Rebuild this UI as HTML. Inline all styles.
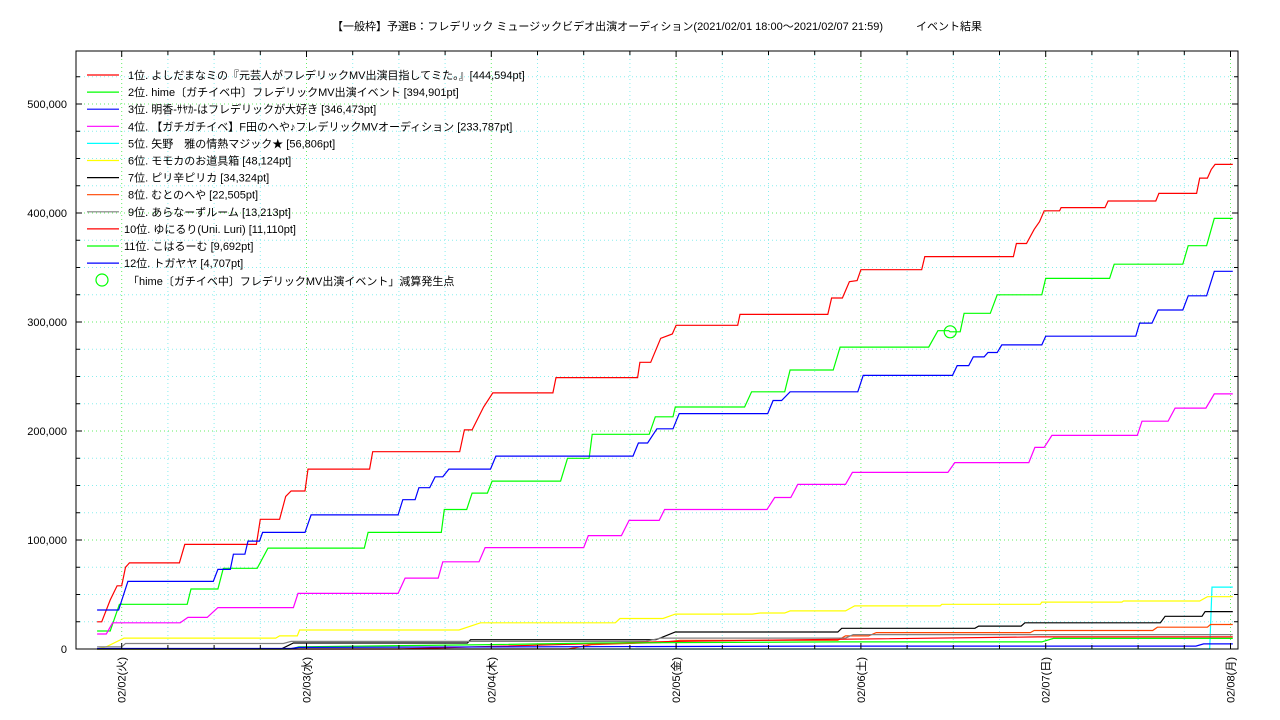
<!DOCTYPE html>
<html><head><meta charset="utf-8">
<style>
html,body{margin:0;padding:0;background:#fff;}
svg{display:block;font-family:"Liberation Sans","Noto Sans CJK JP",sans-serif;}
</style></head>
<body>
<svg id="chart" width="1280" height="720" viewBox="0 0 1280 720">
<text x="657" y="30" font-size="11" text-anchor="middle">【一般枠】予選B：フレデリック ミュージックビデオ出演オーディション(2021/02/01 18:00～2021/02/07 21:59)　　　イベント結果</text>
<g id="grid"></g>
<g id="series"></g>
<g id="axes"></g>
<g id="legend"></g>
</svg>
<script>
// ---- data (hours since 02/02 00:00, values in thousands of pt) ----
const dayLabels = ["02/02(火)","02/03(水)","02/04(木)","02/05(金)","02/06(土)","02/07(日)","02/08(月)"];
const yTicks = [0,100000,200000,300000,400000,500000];
const names = [
"1位. よしだまなミの『元芸人がフレデリックMV出演目指してミた。』[444,594pt]",
"2位. hime〔ガチイベ中〕フレデリックMV出演イベント [394,901pt]",
"3位. 明香-ｻﾔｶ-はフレデリックが大好き [346,473pt]",
"4位. 【ガチガチイベ】F田のへや♪フレデリックMVオーディション [233,787pt]",
"5位. 矢野　雅の情熱マジック★ [56,806pt]",
"6位. モモカのお道具箱 [48,124pt]",
"7位. ピリ辛ピリカ [34,324pt]",
"8位. むとのへや [22,505pt]",
"9位. あらなーずルーム [13,213pt]",
"10位. ゆにるり(Uni. Luri) [11,110pt]",
"11位. こはるーむ [9,692pt]",
"12位. トガヤヤ [4,707pt]"];
const colors = ["#ff0000","#00ff00","#0000ff","#ff00ff","#00ffff","#ffff00","#000000","#ff4500","#808080","#ff0000","#00ff00","#0000ff"];
const s1 = [[-3.2,25],[-2.6,25],[-1.5,45],[-0.6,58],[0,58],[0.5,75],[1,79],[7.5,79],[8.2,96],[17.5,96],[18,119],[20.5,119],[21.3,140],[22,145],[23.8,145],[24.2,165],[32.2,165],[32.6,181],[43.9,181],[44.5,201],[45.5,201],[47,222],[48.2,235],[56,235],[56.4,249],[67,249],[67.3,263],[68.7,263],[70,285],[71.5,289],[72,297],[80,297],[80.3,307],[91.7,307],[92.2,322],[93.6,322],[94.5,337],[95.5,338],[96,348],[103.9,348],[104.3,360],[115.8,360],[116.2,372],[117.5,372],[118.5,385],[119.2,392],[119.8,402],[121.8,402],[122,405],[127.7,405],[128.1,411],[134.3,411],[134.7,418],[139.6,418],[140,432],[141,432],[141.5,440],[142,444.6],[144.3,444.6]];
const s2 = [[-3.2,16.5],[-1.5,16.5],[-0.3,41],[8.5,41],[9.0,55],[12.5,55],[13.2,74],[17.6,74],[19.0,92.6],[31.5,92.6],[32.0,107],[41.5,107],[41.9,128],[44.8,128],[45.5,143],[47.5,143],[48.1,154],[57.0,154],[57.9,175],[60.7,175],[61.1,197],[68.5,197],[69.3,213],[71.6,213],[71.9,222],[80.9,222],[81.8,236],[86.1,236],[86.8,256],[92.4,256],[93.3,277],[104.8,277],[106.0,292],[107.4,292],[107.6,291],[108.9,291],[109.4,308],[112.8,308],[113.7,325],[119.5,325],[120.0,340],[128.3,340],[128.9,353],[137.8,353],[138.5,370],[140.9,370],[141.9,395],[144.3,395]];
const s3 = [[-3.2,35.8],[-0.4,35.8],[0.8,62],[11.9,62],[12.5,73],[14.1,73],[14.5,87],[16,87],[16.4,99],[17.9,99],[18.3,107],[23.8,107],[24.6,123],[35.9,123],[36.5,137],[38.1,137],[38.6,148],[40,148],[40.7,158],[41.7,158],[42.5,165],[47.9,165],[48.6,177],[66.4,177],[67.1,189],[68.3,189],[69.5,202],[71.6,202],[72.4,216],[83.9,216],[84.6,228],[85.7,228],[86.8,236],[95.6,236],[96.3,251],[107.9,251],[108.5,260],[110,260],[110.6,268],[112,268],[112.5,272],[113.7,272],[114.3,279],[119.5,279],[120,287],[131.7,287],[132.2,299],[133.8,299],[134.6,311],[137.8,311],[138.5,324],[140.9,324],[141.9,346.5],[144.3,346.5]];
const s4 = [[-3.2,13.8],[-2,13.8],[-1.2,24],[7.6,24],[8.6,29],[11.1,29],[12.5,38],[22.3,38],[22.9,51],[35.9,51],[36.8,65],[41.1,65],[41.7,80],[46.4,80],[47.2,93],[60,93],[60.6,104],[64.9,104],[65.9,118],[69.8,118],[70.5,128],[83.8,128],[84.8,139],[86.9,139],[87.8,151],[94,151],[94.9,162],[107.3,162],[108.2,171],[117.8,171],[118.6,185],[119.8,185],[120.8,196],[131.9,196],[132.5,209],[135.9,209],[136.8,221],[140.8,221],[141.9,234],[144.3,234]];
const s5 = [[-3.2,0],[141.3,0],[141.6,56.8],[144.3,56.8]];
const s6 = [[-3.2,0],[-2,2],[0.3,10],[20,10],[20.5,12],[22.8,12],[23.1,17.4],[43.8,17.4],[46.6,24],[64.1,24],[64.7,28],[70.3,28],[71.9,32],[81.9,32],[82.9,33],[86.1,33],[86.8,35],[94,35],[95.2,39.5],[106.3,39.5],[106.5,41],[119.3,41],[119.5,43],[129.9,43],[130.1,44],[140,44],[141,48],[144.3,48]];
const s7 = [[-3.2,0],[20.7,0],[22.3,5.5],[44.9,5.5],[45.3,8.5],[69.4,8.5],[71.9,15.6],[93,15.6],[93.5,19],[110.8,19],[111.3,21],[116.8,21],[117.3,24],[134.9,24],[135.5,30],[140.3,30],[140.7,34.3],[144.3,34.3]];
const s8 = [[-3.2,0],[58,0],[61,4],[70,6],[72.5,8],[93,8],[94,12],[97,12],[98,15],[118,15],[118.5,17],[133.9,17],[134.5,20],[141,20],[141.4,22.5],[144.3,22.5]];
const s9 = [[-3.2,2],[0,2],[0.5,5],[21,5],[22,7],[68,7],[70,10],[94,10],[95,13.2],[144.3,13.2]];
const s10 = [[-3.2,0],[36,0],[46,2],[62,5],[72,7],[94,9],[119,11.1],[144.3,11.1]];
const s11 = [[-3.2,0],[22,0],[23,2],[48,4],[62,5.5],[93,6.5],[119.5,6.5],[121,9.7],[144.3,9.7]];
const s12 = [[-3.2,0.5],[22,0.5],[23,1.5],[93,2.7],[139.5,2.7],[140.5,4.7],[144.3,4.7]];
const allSeries = [s1,s2,s3,s4,s5,s6,s7,s8,s9,s10,s11,s12];
const markerPoint = [107.6, 291];

// ---- axes ----
const NS="http://www.w3.org/2000/svg";
const L=76,R=1238,T=51,B=649;
const X0=121.7, PXH=7.7;
function xs(h){return X0+h*PXH;}
function ys(v){return B-v*0.00109*1000;} // v in thousands
function el(tag,attrs,parent){const e=document.createElementNS(NS,tag);for(const k in attrs)e.setAttribute(k,attrs[k]);parent.appendChild(e);return e;}
const grid=document.getElementById('grid'),axes=document.getElementById('axes'),ser=document.getElementById('series'),leg=document.getElementById('legend');

// vertical grid every 6h
for(let h=-18;h<=150;h+=6){const x=xs(h);if(x<L+1||x>R-1)continue;
 const major=(h%24===0);
 const g=el('line',{x1:x,x2:x,y1:T,y2:B,stroke:major?'#66ee66':'#88eeee','stroke-width':1,'stroke-dasharray':'1,3'},grid);
 
 
 el('line',{x1:x,x2:x,y1:B,y2:B-(major?6:4),stroke:'#000'},axes);
 el('line',{x1:x,x2:x,y1:T,y2:T+(major?6:4),stroke:'#000'},axes);
}
// horizontal grid every 25k
for(let v=25;v<=550;v+=25){const y=ys(v);if(y<T)continue;const major=(v%100===0);
 const g=el('line',{x1:L,x2:R,y1:y,y2:y,stroke:major?'#66ee66':'#88eeee','stroke-width':1,'stroke-dasharray':'1,3'},grid);
 
 
 el('line',{x1:L,x2:L+(major?6:4),y1:y,y2:y,stroke:'#000'},axes);
 el('line',{x1:R,x2:R-(major?6:4),y1:y,y2:y,stroke:'#000'},axes);
}
const frame=el('rect',{x:L,y:T,width:R-L,height:B-T,fill:'none',stroke:'#000','stroke-width':1},axes);


yTicks.forEach(v=>{const t=el('text',{x:67,y:ys(v/1000)+4,'font-size':11,'text-anchor':'end'},axes);t.textContent=v.toLocaleString('en-US');
 
 });
dayLabels.forEach((d,i)=>{const x=xs(i*24);const t=el('text',{transform:`translate(${x+4},657) rotate(-90)`,'font-size':11,'text-anchor':'end'},axes);t.textContent=d;
 
 });

// series
allSeries.forEach((s,i)=>{const p=el('polyline',{points:s.map(d=>xs(d[0]).toFixed(1)+','+ys(d[1]).toFixed(1)).join(' '),fill:'none',stroke:colors[i],'stroke-width':1.2},ser);
 
 });
const mk=el('circle',{cx:xs(markerPoint[0]),cy:ys(markerPoint[1]),r:6,fill:'none',stroke:'#00ff00','stroke-width':1.2},ser);



// legend
names.forEach((n,i)=>{const y=75+i*17.1;
 const g=el('g',{},leg);
 
 
 el('line',{x1:87,x2:119,y1:y,y2:y,stroke:colors[i],'stroke-width':1.2},g);
 const t=el('text',{x:i>=9?124:128,y:y+4,'font-size':11},g);t.textContent=n;});
const lg=el('g',{},leg);


el('circle',{cx:102,cy:280,r:6,fill:'none',stroke:'#00ff00','stroke-width':1.2},lg);
const lt=el('text',{x:128,y:285,'font-size':11},lg);lt.textContent="「hime〔ガチイベ中〕フレデリックMV出演イベント」減算発生点";
</script>
</body></html>
